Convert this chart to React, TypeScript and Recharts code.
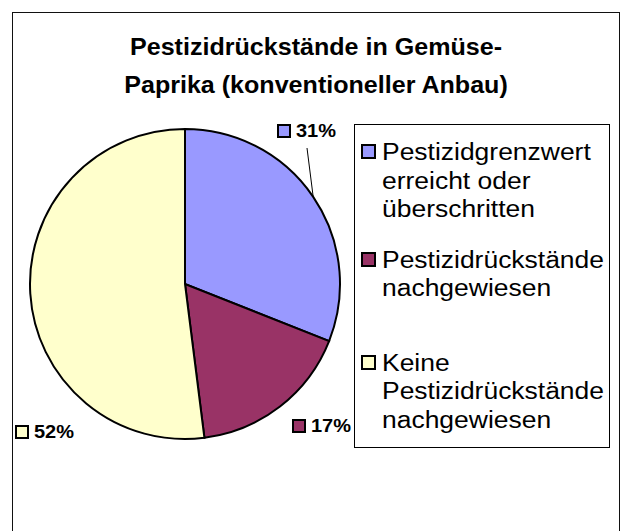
import { PieChart, Pie, Cell, Legend } from 'recharts';

// ── Data ───────────────────────────────────────────────────────────────────

const TITLE_LINES = ['Pestizidrückstände in Gemüse-', 'Paprika (konventioneller Anbau)'];

const CATEGORIES = [
  'Pestizidgrenzwert\nerreicht oder\nüberschritten',
  'Pestizidrückstände\nnachgewiesen',
  'Keine\nPestizidrückstände\nnachgewiesen',
];
const SHARES = [31, 17, 52];
const COLORS = ['#9999FF', '#993366', '#FFFFCC'];

// label placement relative to pie centre (Excel "best fit" look)
const LABEL_ANCHOR = [
  { dx: 92, dy: -147, line: true },
  { dx: 107, dy: 148, line: false },
  { dx: -170, dy: 154, line: false },
];
// gap above each legend entry
const LEGEND_GAP = [13, 22, 46];

const data = CATEGORIES.map((name, i) => ({ name, value: SHARES[i], color: COLORS[i] }));

const FONT = '"Liberation Sans", Arial, sans-serif';
const RADIAN = Math.PI / 180;

// ── Slice label: swatch + bold percentage ──────────────────────────────────

function SliceLabel(props: any) {
  const { cx, cy, midAngle, outerRadius, percent, index } = props;
  const a = LABEL_ANCHOR[index];
  const x = cx + a.dx;
  const base = cy + a.dy;
  const ex = cx + outerRadius * Math.cos(-midAngle * RADIAN);
  const ey = cy + outerRadius * Math.sin(-midAngle * RADIAN);
  return (
    <g>
      {a.line && <line x1={ex} y1={ey} x2={x + 30} y2={base + 11} stroke="#000" strokeWidth={1} />}
      <rect x={x + 1} y={base - 12} width={12} height={12} fill={COLORS[index]} stroke="#000" strokeWidth={2} />
      <text
        x={x + 19} y={base} fontFamily={FONT} fontWeight="bold" fontSize={18} fill="#000"
        textLength={40} lengthAdjust="spacingAndGlyphs"
      >
        {`${Math.round(percent * 100)}%`}
      </text>
    </g>
  );
}

// ── Legend box ─────────────────────────────────────────────────────────────

function LegendBox() {
  return (
    <div
      style={{
        width: 254, height: 322, border: '1px solid #000', background: '#fff',
        fontFamily: FONT, fontSize: 23, lineHeight: '28.5px', color: '#000', boxSizing: 'content-box',
      }}
    >
      {data.map((d, i) => (
        <div key={i} style={{ display: 'flex', marginTop: LEGEND_GAP[i] }}>
          <span
            style={{
              width: 11, height: 11, border: '2px solid #000', background: d.color,
              marginLeft: 6, marginTop: 6, marginRight: 6, flexShrink: 0,
            }}
          />
          <span style={{ whiteSpace: 'pre-line', display: 'inline-block', transform: 'scaleX(1.15)', transformOrigin: 'left' }}>
            {d.name}
          </span>
        </div>
      ))}
    </div>
  );
}

export default function App() {
  return (
    <div style={{ position: 'absolute', left: 0, top: 0, width: 621, height: 531, overflow: 'hidden', background: '#fff' }}>
      {/* outer chart frame */}
      <div style={{ position: 'absolute', left: 12, top: 12, width: 606, height: 560, border: '1.5px solid #111' }} />

      <div
        style={{
          position: 'absolute', left: 0, top: 28, width: 632, textAlign: 'center',
          fontFamily: FONT, fontWeight: 'bold', fontSize: 23, lineHeight: '38px', color: '#000',
          transform: 'scaleX(1.09)', transformOrigin: 'center',
        }}
      >
        {TITLE_LINES.map((t) => <div key={t}>{t}</div>)}
      </div>

      <PieChart width={621} height={531} margin={{ top: 0, right: 0, bottom: 0, left: 0 }} style={{ position: 'absolute', left: 0, top: 0 }}>
        <Pie
          data={data}
          dataKey="value"
          nameKey="name"
          cx={185}
          cy={284}
          outerRadius={155}
          startAngle={90}
          endAngle={-270}
          stroke="#000"
          strokeWidth={2}
          labelLine={false}
          label={SliceLabel}
          isAnimationActive={false}
        >
          {data.map((d) => <Cell key={d.name} fill={d.color} />)}
        </Pie>
        <Legend
          content={<LegendBox />}
          wrapperStyle={{ position: 'absolute', left: 354, top: 124, width: 256, height: 324, bottom: 'auto', right: 'auto' }}
        />
      </PieChart>
    </div>
  );
}
